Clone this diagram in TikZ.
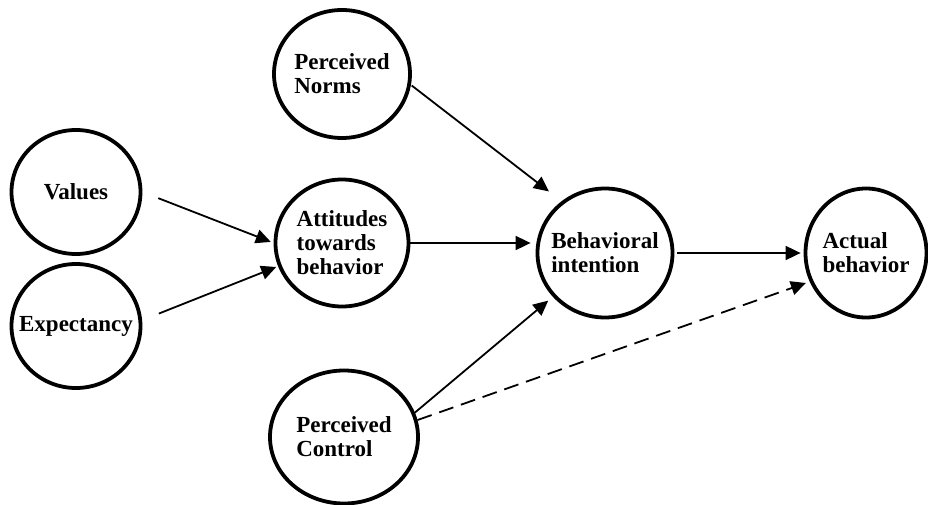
\documentclass[tikz,border=0pt]{standalone}
\usepackage{fontspec}
\setmainfont{Liberation Serif}
\usepackage{tikz}
\usetikzlibrary{arrows.meta,shapes.geometric}

\begin{document}
\begin{tikzpicture}[
  x=1pt, y=-1pt,
  construct/.style={draw, ellipse, line width=3.8pt, inner sep=-25pt, align=left,
                    font=\fontsize{23}{24}\selectfont\bfseries},
  arr/.style={-{Triangle[length=15pt, width=14pt]}, line width=1.8pt},
  darr/.style={arr, dash pattern=on 15pt off 8pt}
]
  \useasboundingbox (0,0) rectangle (928,505);

  % Antecedents
  \node[construct, minimum width=129pt, minimum height=124pt] (val) at (76,192) {Values};
  \node[construct, minimum width=129pt, minimum height=124pt] (exp) at (76,326) {Expectancy};

  % Middle column
  \node[construct, minimum width=136pt, minimum height=128pt] (norms) at (342,74) {Perceived\\Norms};
  \node[construct, minimum width=133pt, minimum height=127pt] (att) at (342,243) {Attitudes\\towards\\behavior};
  \node[construct, minimum width=148pt, minimum height=133pt] (ctrl) at (344,437) {Perceived\\Control};

  % Outcomes
  \node[construct, minimum width=135pt, minimum height=129pt] (bi) at (605,253) {Behavioral\\intention};
  \node[construct, minimum width=121pt, minimum height=129pt] (act) at (866,253) {Actual\\behavior};

  % Arrows
  \draw[arr, shorten <=17pt, shorten >=3pt] (val.east) -- (att.west);
  \draw[arr, shorten <=18pt, shorten >=2pt] (exp.5) -- (att.200);
  \draw[arr, shorten <=1pt, shorten >=16pt] (norms.-9) -- (bi.130);
  \draw[arr, shorten >=5pt] (att.east) -- (att.east -| bi.west);
  \draw[arr, shorten <=3pt, shorten >=3pt] (bi.east) -- (act.west);
  \draw[arr, shorten >=6pt] (ctrl.19) -- (bi.220);
  \draw[darr, shorten >=4pt] (ctrl.13) -- (act.207);
\end{tikzpicture}
\end{document}
